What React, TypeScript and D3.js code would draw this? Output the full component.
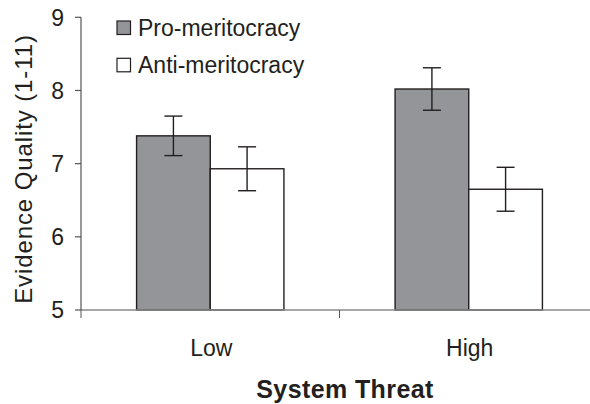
import React, { useEffect } from 'react';
import * as d3 from 'd3';

// chart data
const categories = ['Low', 'High'];
const seriesNames = ['Pro-meritocracy', 'Anti-meritocracy'];
const proValues = [7.38, 8.02];
const proErrors = [0.27, 0.29];
const antiValues = [6.93, 6.65];
const antiErrors = [0.3, 0.3];
const yTicks = [5, 6, 7, 8, 9];

const width = 590;
const height = 404;
const font = '"Liberation Sans", Arial, sans-serif';
const ink = '#231f20';
const fills = ['#939598', '#ffffff'];

function App() {
  useEffect(() => {
    document.body.style.margin = '0';
  }, []);

  const x0 = d3.scaleBand().domain(categories).range([81, 598]);
  const bw = x0.bandwidth();
  const groupW = bw * 0.57;
  const x1 = d3.scaleBand()
    .domain(seriesNames)
    .range([(bw - groupW) / 2, (bw + groupW) / 2]);
  const y = d3.scaleLinear().domain([5, 9]).range([310, 17.3]);

  const series = [
    { name: seriesNames[0], values: proValues, errors: proErrors, fill: fills[0] },
    { name: seriesNames[1], values: antiValues, errors: antiErrors, fill: fills[1] },
  ];

  return (
    <svg width={width} height={height} style={{ display: 'block', background: '#fff' }}>
      {/* bars */}
      {series.map(s =>
        categories.map((c, i) => (
          <rect key={s.name + c}
            x={x0(c)! + x1(s.name)!}
            y={y(s.values[i])}
            width={x1.bandwidth()}
            height={y(5) - y(s.values[i])}
            fill={s.fill}
            stroke={ink}
            strokeWidth={1.4} />
        ))
      )}

      {/* error bars */}
      {series.map(s =>
        categories.map((c, i) => {
          const cx = x0(c)! + x1(s.name)! + x1.bandwidth() / 2;
          const hi = y(s.values[i] + s.errors[i]);
          const lo = y(s.values[i] - s.errors[i]);
          return (
            <g key={'e' + s.name + c} stroke={ink} strokeWidth={1.4}>
              <line x1={cx} x2={cx} y1={hi} y2={lo} />
              <line x1={cx - 9} x2={cx + 9} y1={hi} y2={hi} />
              <line x1={cx - 9} x2={cx + 9} y1={lo} y2={lo} />
            </g>
          );
        })
      )}

      {/* x axis */}
      <line x1={81} x2={598} y1={y(5)} y2={y(5)} stroke="#8a8a8a" strokeWidth={1.3} />
      {[81, x0('High')!, 598].map((v, i) => (
        <line key={'xt' + i} x1={v} x2={v} y1={y(5)} y2={y(5) + 8} stroke="#555" strokeWidth={1} />
      ))}
      {categories.map(c => (
        <text key={c} x={x0(c)! + bw / 2 + 1} y={356} textAnchor="middle"
          fontFamily={font} fontSize={23} fill={ink}>{c}</text>
      ))}
      <text x={345} y={398} textAnchor="middle" fontFamily={font} fontSize={25}
        fontWeight="bold" letterSpacing={0.4} fill={ink}>System Threat</text>

      {/* y axis */}
      <line x1={81} x2={81} y1={y(9)} y2={y(5)} stroke="#555" strokeWidth={1.2} />
      {yTicks.map(t => (
        <g key={'yt' + t}>
          <line x1={75} x2={81} y1={y(t)} y2={y(t)} stroke="#555" strokeWidth={1.2} />
          <text x={64} y={y(t)} dy="0.36em" textAnchor="end"
            fontFamily={font} fontSize={23} fill={ink}>{t}</text>
        </g>
      ))}
      <text transform="translate(32,169) rotate(-90)" textAnchor="middle"
        fontFamily={font} fontSize={24} letterSpacing={0.9} fill={ink}>
        Evidence Quality (1-11)
      </text>

      {/* legend */}
      {series.map((s, i) => (
        <g key={'lg' + s.name} transform={`translate(117,${21 + i * 37.3})`}>
          <rect x={0} y={0} width={13.5} height={13.5} fill={s.fill} stroke={ink} strokeWidth={1.2} />
          <text x={21} y={15} fontFamily={font} fontSize={23} fill={ink}>{s.name}</text>
        </g>
      ))}
    </svg>
  );
}

export default App;
